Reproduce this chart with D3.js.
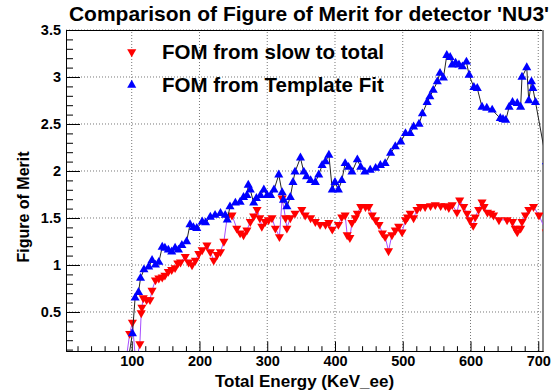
<!DOCTYPE html>
<html>
<head>
<meta charset="utf-8">
<script src="https://cdn.jsdelivr.net/npm/d3@7"></script>
<style>
  body { margin: 0; background: #fff; }
  text { font-family: "Liberation Sans", Arial, sans-serif; font-weight: bold; }
</style>
</head>
<body>
<svg id="chart"></svg>
<script>
// FOM from Template Fit (blue, up triangles)
const energyFit = [93, 101, 105, 110, 113, 118, 125, 130, 135, 140, 145, 149, 154, 159, 164, 169, 174, 181,
  186, 191, 196, 204, 209, 216, 223, 231, 238, 241, 245, 253, 260, 265, 270, 272, 275, 280, 284, 290,
  295, 300, 305, 310, 317, 322, 324, 329, 334, 338, 341, 349, 354, 358, 364, 371, 376, 381, 386, 391,
  396, 400, 405, 410, 415, 420, 425, 433, 438, 444, 452, 460, 467, 474, 482, 489, 497, 504, 511, 516,
  524, 529, 536, 540, 545, 551, 555, 560, 565, 570, 573, 578, 583, 588, 594, 598, 605, 610, 617, 624,
  632, 644, 648, 652, 657, 662, 669, 674, 676, 683, 686, 690, 692, 696, 712];
const fomFit = [-0.1, 0.27, 0.65, 0.71, 0.86, 0.95, 0.98, 1.05, 1.0, 1.03, 1.19, 1.18, 1.16, 1.14, 1.18, 1.16, 1.21, 1.25,
  1.43, 1.4, 1.39, 1.46, 1.45, 1.51, 1.53, 1.55, 1.53, 1.48, 1.62, 1.66, 1.67, 1.72, 1.74, 1.85, 1.8, 1.66, 1.71, 1.74,
  1.8, 1.74, 1.74, 1.8, 1.96, 1.77, 1.69, 1.62, 1.72, 1.88, 1.99, 2.14, 1.99, 1.94, 1.9, 1.88, 1.96, 2.06, 2.1, 2.17,
  1.8, 1.88, 1.8, 1.9, 2.08, 2.04, 1.99, 2.12, 2.04, 1.99, 2.01, 2.03, 2.06, 2.08, 2.19, 2.26, 2.31, 2.4, 2.4, 2.47,
  2.5, 2.61, 2.73, 2.79, 2.86, 2.95, 3.04, 2.99, 3.23, 3.21, 3.13, 3.15, 3.13, 3.11, 3.16, 3.02, 2.89, 2.88, 2.68, 2.67,
  2.65, 2.56, 2.55, 2.54, 2.68, 2.73, 2.72, 2.68, 3.0, 3.1, 2.75, 2.95, 2.88, 2.73, 2.1];

// FOM from slow to total (red, down triangles)
const energySlow = [90, 97, 101, 106, 112, 114, 115, 117, 122, 127, 130, 135, 140, 145, 149, 154, 159, 164, 168,
  172, 179, 184, 189, 194, 199, 204, 211, 216, 221, 226, 231, 236, 241, 248, 255, 260, 265, 270, 275, 280,
  285, 289, 292, 297, 302, 307, 312, 318, 322, 327, 329, 334, 341, 351, 356, 364, 371, 378, 386, 391, 396,
  405, 410, 415, 418, 422, 425, 430, 433, 438, 445, 450, 455, 460, 465, 470, 474, 479, 484, 489, 494, 499,
  504, 507, 511, 516, 521, 526, 533, 541, 548, 556, 563, 568, 573, 580, 584, 590, 595, 599, 604, 607, 612,
  617, 620, 625, 630, 634, 642, 654, 662, 666, 669, 674, 676, 681, 686, 693, 701, 712];
const fomSlow = [-0.1, 0.27, 0.39, -0.05, 0.16, 0.49, 0.55, 0.65, 0.63, 0.63, 0.73, 0.84, 0.86, 0.87, 0.89, 0.93, 0.95, 0.97, 1.02,
  1.03, 1.09, 1.03, 1.0, 1.05, 1.12, 1.16, 1.21, 1.14, 1.05, 1.11, 1.14, 1.25, 1.51, 1.53, 1.39, 1.34, 1.32, 1.37, 1.46, 1.52,
  1.59, 1.5, 1.41, 1.46, 1.48, 1.5, 1.39, 1.3, 1.71, 1.5, 1.39, 1.5, 1.55, 1.59, 1.53, 1.5, 1.46, 1.43, 1.43, 1.45, 1.38,
  1.43, 1.51, 1.53, 1.32, 1.29, 1.45, 1.5, 1.55, 1.62, 1.62, 1.62, 1.53, 1.48, 1.43, 1.34, 1.3, 1.15, 1.32, 1.37, 1.41, 1.35,
  1.48, 1.51, 1.55, 1.5, 1.59, 1.62, 1.62, 1.63, 1.64, 1.63, 1.63, 1.61, 1.64, 1.56, 1.69, 1.62, 1.55, 1.48, 1.42, 1.51, 1.59,
  1.67, 1.62, 1.56, 1.55, 1.53, 1.48, 1.48, 1.46, 1.39, 1.35, 1.39, 1.46, 1.53, 1.59, 1.62, 1.53, 1.35];

const xTicks = [100, 200, 300, 400, 500, 600, 700];
const yTicks = [0.5, 1, 1.5, 2, 2.5, 3, 3.5];
const legendLabels = ["FOM from slow to total", "FOM from Template Fit"];

const width = 555;
const height = 390;
const margin = { top: 30, right: 12, bottom: 39, left: 66 };
const x0 = margin.left, x1 = width - margin.right;
const y0 = height - margin.bottom, y1 = margin.top;

const svg = d3.select("#chart").attr("width", width).attr("height", height);

const x = d3.scaleLinear().domain([3, 707]).range([x0, x1]);
const y = d3.scaleLinear().domain([0.085, 3.5]).range([y0, y1]);

svg.append("defs").append("clipPath").attr("id", "clip")
  .append("rect").attr("x", x0).attr("y", y1).attr("width", x1 - x0).attr("height", y0 - y1);

// grid
const grid = svg.append("g").attr("stroke", "#777").attr("stroke-dasharray", "1,2");
grid.selectAll(".gx").data(xTicks).join("line")
  .attr("x1", d => x(d)).attr("x2", d => x(d)).attr("y1", y0).attr("y2", y1);
grid.selectAll(".gy").data(yTicks).join("line")
  .attr("x1", x0).attr("x2", x1).attr("y1", d => y(d)).attr("y2", d => y(d));

// frame top / right
svg.append("line").attr("x1", x0).attr("x2", x1).attr("y1", y1 + 0.5).attr("y2", y1 + 0.5).attr("stroke", "#000");
svg.append("line").attr("x1", x1).attr("x2", x1).attr("y1", y1).attr("y2", y0).attr("stroke", "#888").attr("stroke-width", 2);

// axes
const xMinor = d3.range(20, 707, 20).filter(v => v % 100 !== 0);
const yMinor = d3.range(1, 35).map(v => v / 10).filter(v => Math.round(v * 10) % 5 !== 0);

function styleAxis(g) {
  g.select(".domain").attr("stroke", "#000");
  g.selectAll(".tick line").attr("stroke", "#000");
  g.selectAll("text").attr("fill", "#000").style("font-size", "14.5px").style("font-weight", "bold");
}

svg.append("g").attr("transform", `translate(0,${y0})`)
  .call(d3.axisBottom(x).tickValues(xMinor).tickSize(-4.8).tickFormat("").tickSizeOuter(0))
  .call(styleAxis);
svg.append("g").attr("transform", `translate(0,${y0})`)
  .call(d3.axisBottom(x).tickValues(xTicks).tickSize(-9.6).tickSizeOuter(0))
  .call(styleAxis)
  .call(g => g.selectAll("text").attr("y", 15).attr("dy", 0));

svg.append("g").attr("transform", `translate(${x0},0)`)
  .call(d3.axisLeft(y).tickValues(yMinor).tickSize(-7).tickFormat("").tickSizeOuter(0))
  .call(styleAxis);
svg.append("g").attr("transform", `translate(${x0},0)`)
  .call(d3.axisLeft(y).tickValues(yTicks).tickSize(-14).tickPadding(5).tickFormat(d3.format("")).tickSizeOuter(0))
  .call(styleAxis)
  .call(g => g.selectAll("text").attr("x", -5));

// series
const slow = energySlow.map((e, i) => [e, fomSlow[i]]);
const fit = energyFit.map((e, i) => [e, fomFit[i]]);
const line = d3.line().x(d => x(d[0])).y(d => y(d[1]));
const plot = svg.append("g").attr("clip-path", "url(#clip)");
const tri = d3.symbol().type(d3.symbolTriangle).size(36);

plot.append("path").datum(slow).attr("d", line)
  .attr("fill", "none").attr("stroke", "#a64dff").attr("stroke-width", 1);
plot.selectAll(".slow").data(slow).join("path")
  .attr("d", tri)
  .attr("transform", d => `translate(${x(d[0])},${y(d[1])}) rotate(180)`)
  .attr("fill", "#ff0000");

plot.append("path").datum(fit).attr("d", line)
  .attr("fill", "none").attr("stroke", "#222").attr("stroke-width", 1);
plot.selectAll(".fit").data(fit).join("path")
  .attr("d", tri)
  .attr("transform", d => `translate(${x(d[0])},${y(d[1])})`)
  .attr("fill", "#0000ff");

// legend
const legend = svg.append("g");
[["#ff0000", 180, 52], ["#0000ff", 0, 85]].forEach(([c, r, ly], i) => {
  legend.append("path").attr("d", tri)
    .attr("transform", `translate(${x(100)},${ly}) rotate(${r})`).attr("fill", c);
  legend.append("text").attr("x", 162).attr("y", ly + 7)
    .style("font-size", "20.5px").text(legendLabels[i]);
});

// titles
svg.append("text").attr("x", 309).attr("y", 21).attr("text-anchor", "middle")
  .style("font-size", "21px").text("Comparison of Figure of Merit for detector 'NU3'");
svg.append("text").attr("x", (x0 + x1) / 2).attr("y", 387).attr("text-anchor", "middle")
  .style("font-size", "17px").text("Total Energy (KeV_ee)");
svg.append("text").attr("transform", `translate(29,207) rotate(-90)`).attr("text-anchor", "middle")
  .style("font-size", "16px").text("Figure of Merit");
</script>
</body>
</html>
